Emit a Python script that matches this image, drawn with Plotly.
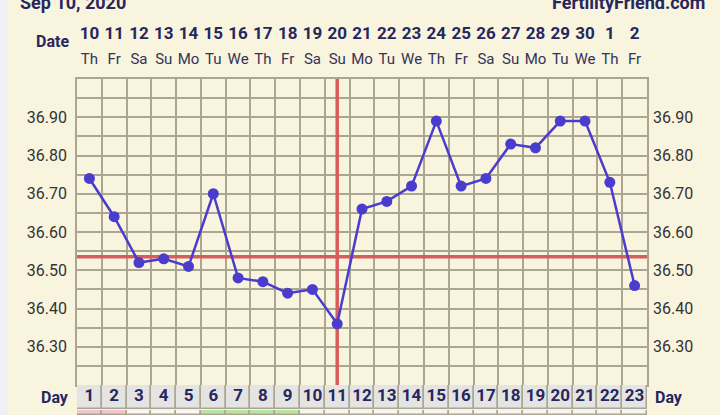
import plotly.graph_objects as go

# ---- data ----
cycle_days = list(range(1, 24))
dates = [10, 11, 12, 13, 14, 15, 16, 17, 18, 19, 20, 21, 22, 23, 24, 25, 26, 27, 28, 29, 30, 1, 2]
weekdays = ["Th", "Fr", "Sa", "Su", "Mo", "Tu", "We", "Th", "Fr", "Sa", "Su", "Mo", "Tu", "We",
            "Th", "Fr", "Sa", "Su", "Mo", "Tu", "We", "Th", "Fr"]
temps = [36.74, 36.64, 36.52, 36.53, 36.51, 36.70, 36.48, 36.47, 36.44, 36.45, 36.36,
         36.66, 36.68, 36.72, 36.89, 36.72, 36.74, 36.83, 36.82, 36.89, 36.89, 36.73, 36.46]
y_tick_vals = [36.30, 36.40, 36.50, 36.60, 36.70, 36.80, 36.90]
y_tick_text = ["36.30", "36.40", "36.50", "36.60", "36.70", "36.80", "36.90"]
y_range = [36.2, 37.0]
coverline = 36.535
ovulation_day = 11
strip_colors = ["#f3c4d2", "#f3c4d2", "#f7f7f7", "#f7f7f7", "#f7f7f7",
                "#b9e4a4", "#b9e4a4", "#b9e4a4", "#b9e4a4"] + ["#f4f4f2"] * 14

# ---- styles ----
BG = "#f8f4de"
GRID = "#aaa692"
NAVY = "#28265e"
LINE = "#4a3ccc"
RED = "#d95c5c"
FONT = "Roboto"

date_text = [f"<span style='font-size:17px'><b>{d}</b></span><br><span style='font-size:15px;color:#33335a'>{w}</span>"
             for d, w in zip(dates, weekdays)]

fig = go.Figure()

# reference lines (under the temperature line)
fig.add_trace(go.Scatter(
    x=[ovulation_day, ovulation_day], y=y_range, mode="lines",
    line=dict(color=RED, width=3.5), xaxis="x", yaxis="y",
    showlegend=False, hoverinfo="skip"))
fig.add_trace(go.Scatter(
    x=[0.5, 23.5], y=[coverline, coverline], mode="lines",
    line=dict(color=RED, width=3.5), xaxis="x", yaxis="y",
    showlegend=False, hoverinfo="skip"))

fig.add_trace(go.Scatter(
    x=cycle_days, y=temps, mode="lines+markers",
    line=dict(color=LINE, width=2.5),
    marker=dict(color=LINE, size=11),
    xaxis="x", yaxis="y", showlegend=False, hoverinfo="skip", cliponaxis=False))

# dummy for right axis
fig.add_trace(go.Scatter(x=[cycle_days[0]], y=[temps[0]], mode="markers",
                         marker=dict(opacity=0), xaxis="x", yaxis="y2",
                         showlegend=False, hoverinfo="skip"))

# day row
fig.add_trace(go.Bar(
    x=cycle_days, y=[1] * len(cycle_days), width=1,
    marker=dict(color="#e4e4e2", line=dict(color=GRID, width=1.5)),
    textposition="none",
    xaxis="x", yaxis="y3", showlegend=False, hoverinfo="skip"))
fig.add_trace(go.Scatter(
    x=cycle_days, y=[0.5] * len(cycle_days), mode="text",
    text=[str(d) for d in cycle_days],
    textfont=dict(family=FONT, size=17, color=NAVY, weight="bold"),
    xaxis="x", yaxis="y3", showlegend=False, hoverinfo="skip", cliponaxis=False))

# bottom colour strip
fig.add_trace(go.Bar(
    x=cycle_days, y=[1] * len(cycle_days), width=1,
    marker=dict(color=strip_colors, line=dict(color=GRID, width=1.5)),
    xaxis="x", yaxis="y4", showlegend=False, hoverinfo="skip"))

H_TOTAL = 336.0
fig.update_layout(
    width=720, height=415,
    margin=dict(l=77, r=73, t=79, b=0),
    paper_bgcolor=BG, plot_bgcolor=BG,
    font=dict(family=FONT, color="#333333"),
    bargap=0,
    xaxis=dict(
        range=[0.5, 23.5], side="top", anchor="y", automargin=False,
        tickmode="array", tickvals=cycle_days, ticktext=date_text,
        tickfont=dict(family=FONT, size=19, color=NAVY),
        showgrid=False, ticks="", zeroline=False,
        ticklabelstandoff=6,
        minor=dict(tick0=0.5, dtick=1, showgrid=True, gridcolor=GRID, gridwidth=1.5, ticks=""),
        showline=True, linecolor=GRID, linewidth=1.5, mirror=True,
    ),
    yaxis=dict(
        domain=[30 / H_TOTAL, 1], range=y_range, automargin=False,
        tickmode="array", tickvals=y_tick_vals, ticktext=y_tick_text,
        tickfont=dict(family=FONT, size=16, color="#333333"),
        showgrid=True, gridcolor=GRID, gridwidth=1.5, zeroline=False, ticks="",
        minor=dict(tick0=36.2, dtick=0.05, showgrid=True, gridcolor=GRID, gridwidth=1.5, ticks=""),
        showline=True, linecolor=GRID, linewidth=1.5, mirror=True,
        ticklabelstandoff=5,
    ),
    yaxis2=dict(
        overlaying="y", side="right", anchor="x", range=y_range, automargin=False,
        tickmode="array", tickvals=y_tick_vals, ticktext=y_tick_text,
        tickfont=dict(family=FONT, size=16, color="#333333"),
        showgrid=False, zeroline=False, ticks="", ticklabelstandoff=5,
    ),
    yaxis3=dict(domain=[6 / H_TOTAL, 30 / H_TOTAL], range=[0, 1], anchor="x", automargin=False,
                showgrid=False, showticklabels=False, zeroline=False, ticks=""),
    yaxis4=dict(domain=[0, 5 / H_TOTAL], range=[0, 1], anchor="x", automargin=False,
                showgrid=False, showticklabels=False, zeroline=False, ticks=""),
)

# left grey page strip
fig.add_shape(type="rect", xref="paper", yref="paper", x0=-77 / 570, x1=-69 / 570,
              y0=-0.01, y1=79 / H_TOTAL + 1.01, fillcolor="#eef0f4", line=dict(width=0), layer="above")

# text labels
fig.add_annotation(text="<b>Sep 10, 2020</b>", xref="paper", yref="paper",
                   x=-59 / 570, y=(415 - 3) / H_TOTAL, xanchor="left", yanchor="middle",
                   showarrow=False, font=dict(family=FONT, size=18, color=NAVY))
fig.add_annotation(text="<b>FertilityFriend.com</b>", xref="paper", yref="paper",
                   x=630 / 570, y=(415 - 3) / H_TOTAL, xanchor="right", yanchor="middle",
                   showarrow=False, font=dict(family=FONT, size=18, color=NAVY))
fig.add_annotation(text="<b>Date</b>", xref="paper", yref="paper",
                   x=-6 / 570, y=(415 - 42) / H_TOTAL, xanchor="right", yanchor="middle",
                   showarrow=False, font=dict(family=FONT, size=16, color=NAVY))
fig.add_annotation(text="<b>Day</b>", xref="paper", yref="paper",
                   x=-6 / 570, y=(415 - 397) / H_TOTAL, xanchor="right", yanchor="middle",
                   showarrow=False, font=dict(family=FONT, size=16, color=NAVY))
fig.add_annotation(text="<b>Day</b>", xref="paper", yref="paper",
                   x=1 + 6 / 570, y=(415 - 397) / H_TOTAL, xanchor="left", yanchor="middle",
                   showarrow=False, font=dict(family=FONT, size=16, color=NAVY))

fig.write_html("out.html", config={"displayModeBar": False},
               post_script="document.body.style.margin='0';document.body.style.overflow='hidden';")
